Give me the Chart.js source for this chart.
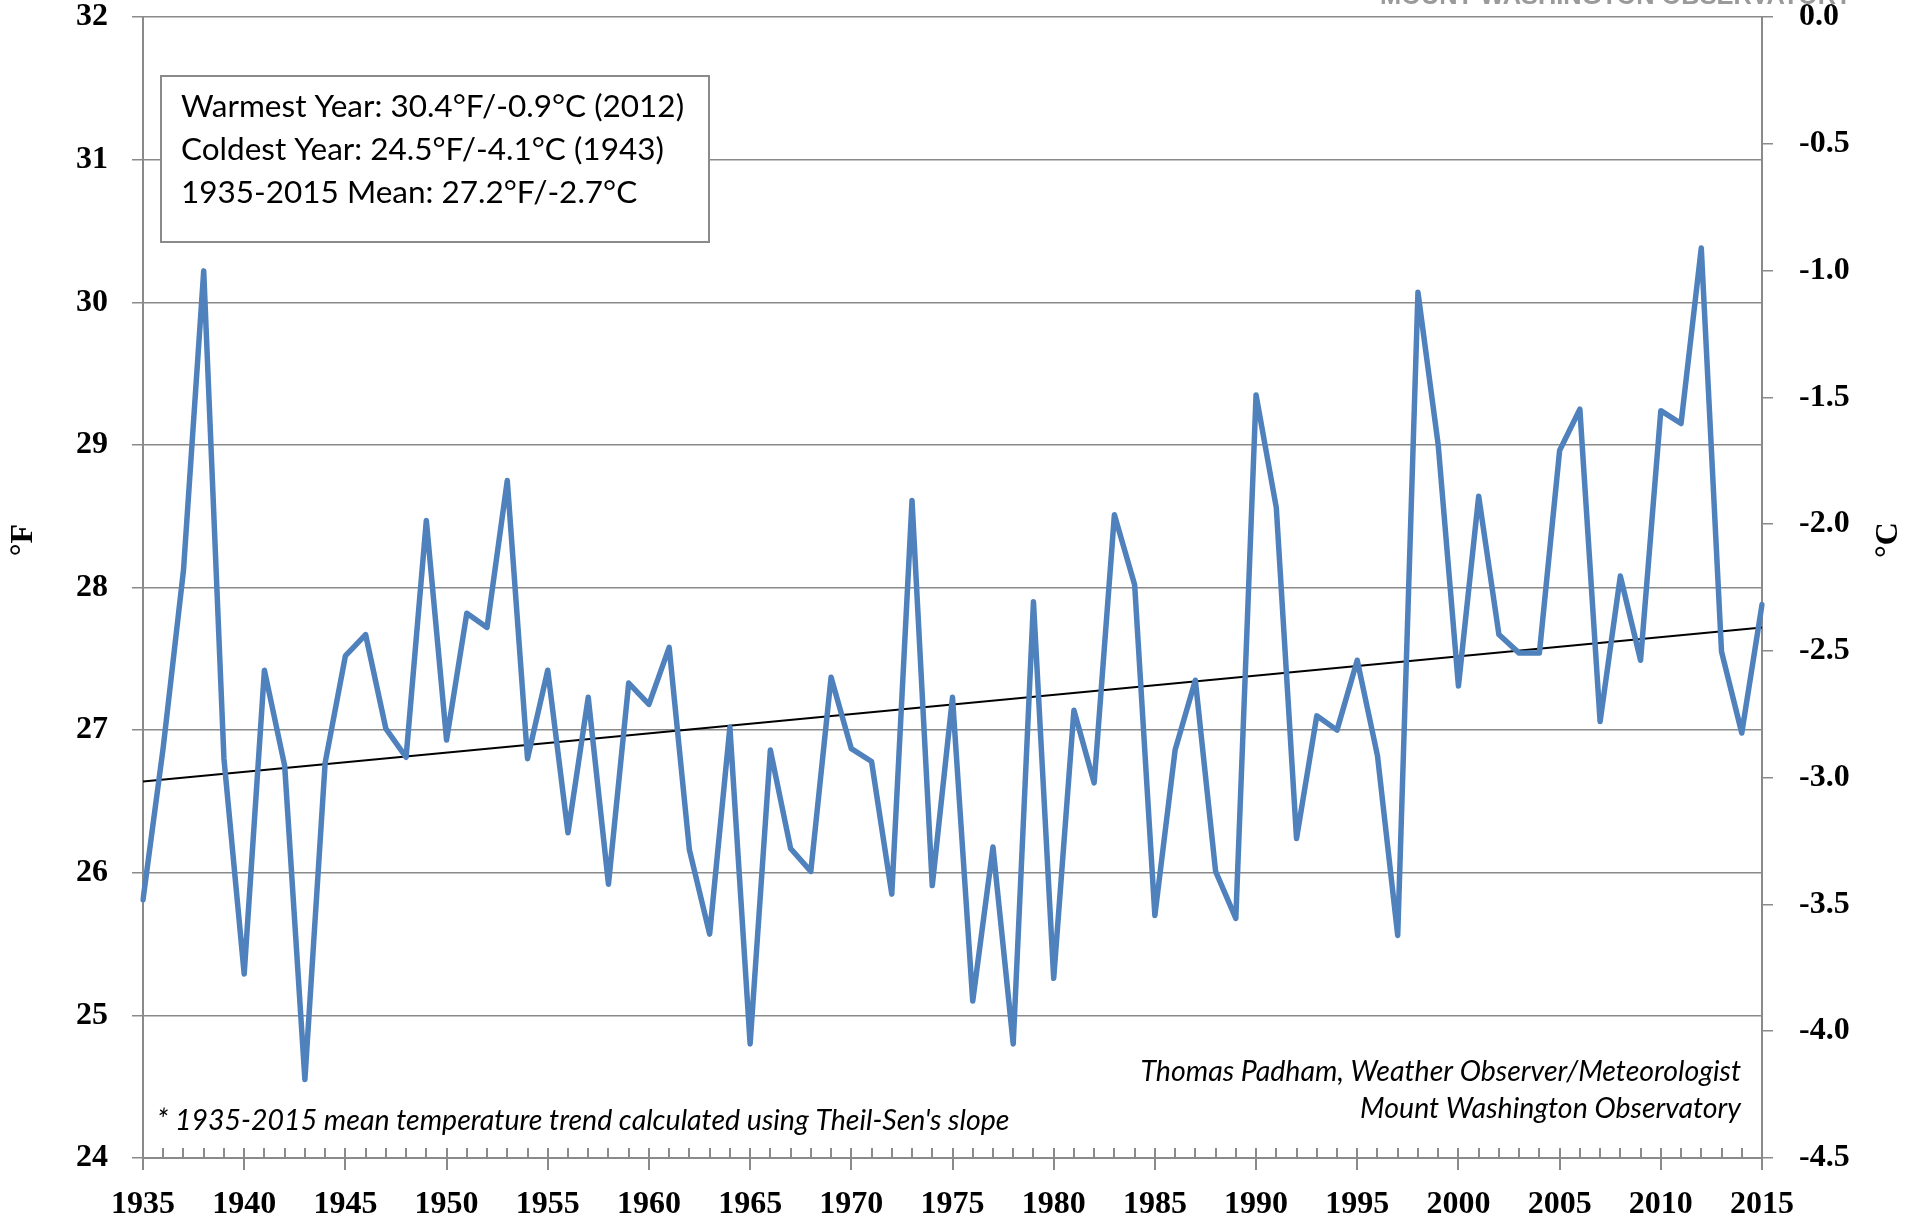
<!DOCTYPE html>
<html>
<head>
<meta charset="utf-8">
<title>Mount Washington annual mean temperature 1935-2015</title>
<script src="https://cdn.jsdelivr.net/npm/chart.js@4.4.1/dist/chart.umd.min.js"></script>
<style>
    html, body { margin: 0; padding: 0; background: #fff; }
    #wrap { width: 1923px; height: 1221px; }
</style>
</head>
<body>
<div id="wrap"><canvas id="tempChart" width="1923" height="1221"></canvas></div>
<script>
// Data (annual mean °F)
const years = [];
for (let y = 1935; y <= 2015; y++) years.push(y);

const meanTempF = [
    25.81, 26.88, 28.12, 30.22, 26.80, 25.29, 27.42, 26.75, 24.55, 26.77,
    27.52, 27.67, 27.01, 26.81, 28.47, 26.93, 27.82, 27.72, 28.75, 26.80,
    27.42, 26.28, 27.23, 25.92, 27.33, 27.18, 27.58, 26.16, 25.57, 27.02,
    24.80, 26.86, 26.17, 26.01, 27.37, 26.87, 26.78, 25.85, 28.61, 25.91,
    27.23, 25.10, 26.18, 24.80, 27.90, 25.26, 27.14, 26.63, 28.51, 28.02,
    25.70, 26.86, 27.35, 26.01, 25.68, 29.35, 28.56, 26.24, 27.10, 27.00,
    27.49, 26.82, 25.56, 30.07, 29.00, 27.31, 28.64, 27.67, 27.54, 27.54,
    28.96, 29.25, 27.06, 28.08, 27.49, 29.24, 29.15, 30.38, 27.55, 26.98,
    27.88
];

// Theil-Sen trend line, end points only (1935 and 2015)
const trendStartF = 26.64;
const trendEndF = 27.72;

const fTicks = [24, 32];      // left axis range
const cTicks = [-4.5, 0];     // right axis range

const statLines = [
    'Warmest Year: 30.4°F/-0.9°C (2012)',
    'Coldest Year: 24.5°F/-4.1°C (1943)',
    '1935-2015 Mean: 27.2°F/-2.7°C'
];
const footNote = "* 1935-2015 mean temperature trend calculated using Theil-Sen's slope";
const creditLines = ['Thomas Padham, Weather Observer/Meteorologist', 'Mount Washington Observatory'];
const logoText = 'MOUNT WASHINGTON OBSERVATORY';

const trendData = years.map(function(y, i) {
    if (i === 0) return trendStartF;
    if (i === years.length - 1) return trendEndF;
    return null;
});

const GRID = '#8a8a8a';
const SERIF = '"Liberation Serif", "DejaVu Serif", serif';
const SANS = 'Lato, "Open Sans", sans-serif';

// no extra room for the end labels, the plot area is placed by hand
function noEdgePadding(scale) {
    scale.paddingTop = 0;
    scale.paddingBottom = 0;
    scale.paddingLeft = 0;
    scale.paddingRight = 0;
}

// draws the year ticks on the x axis, the axis titles and the text blocks
const decorPlugin = {
    id: 'decor',
    beforeDatasetsDraw(chart) {
        const ctx = chart.ctx;
        const xs = chart.scales.x;
        const yb = chart.chartArea.bottom;
        ctx.save();
        ctx.strokeStyle = GRID;
        ctx.lineWidth = 2;
        years.forEach(function(y, i) {
            const px = Math.round(xs.getPixelForValue(i));
            ctx.beginPath();
            ctx.moveTo(px, yb - 10);
            ctx.lineTo(px, y % 5 === 0 ? yb + 12 : yb);
            ctx.stroke();
        });
        ctx.restore();
    },
    afterDatasetsDraw(chart) {
        const ctx = chart.ctx;
        ctx.save();

        // stats box
        ctx.fillStyle = '#fff';
        ctx.fillRect(161, 76, 548, 166);
        ctx.strokeStyle = GRID;
        ctx.lineWidth = 2;
        ctx.strokeRect(161, 76, 548, 166);
        ctx.fillStyle = '#000';
        ctx.font = '31.5px ' + SANS;
        ctx.textBaseline = 'middle';
        ctx.textAlign = 'left';
        statLines.forEach(function(t, i) {
            ctx.fillText(t, 181, 107 + i * 43);
        });

        // notes
        ctx.font = 'italic 28.5px ' + SANS;
        ctx.fillText(footNote, 157, 1121);
        ctx.textAlign = 'right';
        ctx.fillText(creditLines[0], 1741, 1072);
        ctx.fillText(creditLines[1], 1741, 1109);

        // axis titles
        ctx.font = 'bold 32px ' + SERIF;
        ctx.textAlign = 'center';
        ctx.save();
        ctx.translate(24, 540);
        ctx.rotate(-Math.PI / 2);
        ctx.fillText('°F', 0, 0);
        ctx.restore();
        ctx.save();
        ctx.translate(1889, 540);
        ctx.rotate(-Math.PI / 2);
        ctx.fillText('°C', 0, 0);
        ctx.restore();

        // logo, cut off by the top edge
        ctx.font = 'bold 26px "Liberation Sans", sans-serif';
        ctx.fillStyle = '#9a9a9a';
        ctx.textAlign = 'left';
        ctx.textBaseline = 'alphabetic';
        const w = ctx.measureText(logoText).width;
        ctx.translate(1380, 4);
        ctx.scale(472 / w, 1);
        ctx.fillText(logoText, 0, 0);

        ctx.restore();
    }
};

new Chart(document.getElementById('tempChart').getContext('2d'), {
    type: 'line',
    data: {
        labels: years,
        datasets: [{
            label: 'Annual mean',
            data: meanTempF,
            borderColor: '#4F81BD',
            borderWidth: 5.5,
            pointRadius: 0,
            tension: 0,
            borderJoinStyle: 'round',
            borderCapStyle: 'round',
            yAxisID: 'y'
        }, {
            label: 'Trend',
            data: trendData,
            borderColor: '#000',
            borderWidth: 2,
            pointRadius: 0,
            spanGaps: true,
            yAxisID: 'y'
        }]
    },
    options: {
        responsive: false,
        animation: false,
        events: [],
        layout: { padding: { top: 17, right: 0, bottom: 0, left: 0 } },
        plugins: {
            legend: { display: false },
            tooltip: { enabled: false }
        },
        scales: {
            x: {
                offset: false,
                grid: { display: true, drawOnChartArea: false, drawTicks: false, color: GRID },
                border: { color: GRID, width: 2 },
                ticks: {
                    autoSkip: false,
                    maxRotation: 0,
                    padding: 31,
                    color: '#000',
                    font: { family: SERIF, size: 32, weight: 'bold', lineHeight: 1 },
                    callback: function(value, index) {
                        return years[index] % 5 === 0 ? String(years[index]) : null;
                    }
                },
                afterFit: function(scale) { noEdgePadding(scale); scale.height = 63; }
            },
            y: {
                position: 'left',
                min: fTicks[0],
                max: fTicks[1],
                grid: { color: GRID, lineWidth: 1.5, tickLength: 11 },
                border: { color: GRID, width: 2 },
                ticks: {
                    stepSize: 1,
                    padding: 24,
                    color: '#000',
                    font: { family: SERIF, size: 32, weight: 'bold', lineHeight: 1 }
                },
                afterFit: function(scale) { noEdgePadding(scale); scale.width = 143; }
            },
            yC: {
                position: 'right',
                min: cTicks[0],
                max: cTicks[1],
                grid: { drawOnChartArea: false, color: GRID, lineWidth: 1.5, tickLength: 11 },
                border: { color: GRID, width: 2 },
                ticks: {
                    stepSize: 0.5,
                    padding: 26,
                    color: '#000',
                    font: { family: SERIF, size: 32, weight: 'bold', lineHeight: 1 },
                    callback: function(value) { return value.toFixed(1); }
                },
                afterFit: function(scale) { noEdgePadding(scale); scale.width = 161; }
            }
        }
    },
    plugins: [decorPlugin]
});
</script>
</body>
</html>
